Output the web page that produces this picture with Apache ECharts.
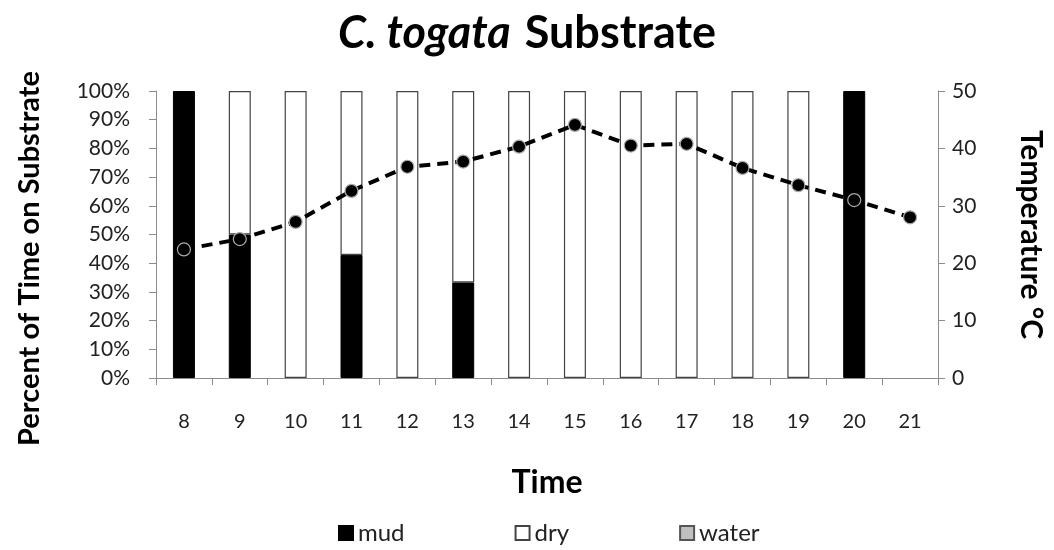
<!DOCTYPE html>
<html>
<head>
<meta charset="UTF-8">
<script src="https://cdn.jsdelivr.net/npm/echarts/dist/echarts.min.js"></script>
<style>
  html, body { margin: 0; padding: 0; background: #fff; }
  #chart { width: 1054px; height: 550px; }
</style>
</head>
<body>
<div id="chart"></div>
<script type="text/javascript">
// Hours of observation
const hours = ['8', '9', '10', '11', '12', '13', '14', '15', '16', '17', '18', '19', '20', '21'];

// Percent of time on each substrate
const mud   = [100, 50, 0, 42.9, 0, 33.3, 0, 0, 0, 0, 0, 0, 100, 0];
const dry   = [0, 50, 100, 57.1, 100, 66.7, 100, 100, 100, 100, 100, 100, 0, 0];
const water = [0, 0, 0, 0, 0, 0, 0, 0, 0, 0, 0, 0, 0, 0];

// Temperature (°C)
const temperature = [22.4, 24.2, 27.2, 32.6, 36.8, 37.7, 40.3, 44.1, 40.5, 40.8, 36.6, 33.6, 31.0, 28.0];

const font = 'Lato, "Open Sans", sans-serif';
const axisGray = '#8c8c8c';

// zero-height bars would still draw a border line, so drop them
const noZero = arr => arr.map(v => (v === 0 ? null : v));

const chart = echarts.init(document.getElementById('chart'));

const option = {
    backgroundColor: '#fff',
    textStyle: { fontFamily: font },
    title: {
        text: '{i|C. togata}{s| }{b|Substrate}',
        left: 'center',
        top: 6,
        textStyle: {
            rich: {
                i: { fontFamily: font, fontSize: 45, fontWeight: 'bold', fontStyle: 'italic', color: '#000' },
                s: { fontFamily: font, fontSize: 45, width: 14 },
                b: { fontFamily: font, fontSize: 45, fontWeight: 'bold', color: '#000' }
            }
        }
    },
    grid: { left: 156, right: 116, top: 91, bottom: 172 },
    legend: {
        data: ['mud', 'dry', 'water'],
        top: 516,
        left: 333,
        icon: 'rect',
        itemWidth: 14,
        itemHeight: 14,
        itemGap: 110,
        textStyle: { fontFamily: font, fontSize: 24, color: '#222' }
    },
    xAxis: {
        type: 'category',
        data: hours,
        name: 'Time',
        nameLocation: 'middle',
        nameGap: 89,
        nameTextStyle: { fontFamily: font, fontSize: 32, fontWeight: 'bold', color: '#000' },
        axisLine: { lineStyle: { color: axisGray } },
        axisTick: { show: true, length: 7, lineStyle: { color: axisGray } },
        axisLabel: { fontFamily: font, fontSize: 20, color: '#222', margin: 34 }
    },
    yAxis: [
        {
            type: 'value',
            min: 0,
            max: 100,
            interval: 10,
            name: 'Percent of Time on Substrate',
            nameLocation: 'middle',
            nameGap: 112,
            nameTextStyle: { fontFamily: font, fontSize: 29, fontWeight: 'bold', color: '#000', padding: [0, 48, 0, 0] },
            axisLine: { show: true, lineStyle: { color: axisGray } },
            axisTick: { show: true, length: 7, lineStyle: { color: axisGray } },
            splitLine: { show: false },
            axisLabel: { formatter: '{value}%', fontFamily: font, fontSize: 21, color: '#222', margin: 26 }
        },
        {
            type: 'value',
            min: 0,
            max: 50,
            interval: 10,
            position: 'right',
            name: 'Temperature °C',
            nameLocation: 'middle',
            nameRotate: -90,
            nameGap: 78,
            nameTextStyle: { fontFamily: font, fontSize: 30, fontWeight: 'bold', color: '#000' },
            axisLine: { show: true, lineStyle: { color: axisGray } },
            axisTick: { show: true, length: 7, lineStyle: { color: axisGray } },
            splitLine: { show: false },
            axisLabel: { fontFamily: font, fontSize: 21, color: '#222', margin: 14 }
        }
    ],
    series: [
        {
            name: 'mud',
            type: 'bar',
            stack: 'sub',
            barWidth: 22,
            itemStyle: { color: '#000', borderColor: '#000', borderWidth: 1 },
            data: noZero(mud)
        },
        {
            name: 'dry',
            type: 'bar',
            stack: 'sub',
            barWidth: 22,
            itemStyle: { color: '#fff', borderColor: '#444', borderWidth: 1.2 },
            data: noZero(dry)
        },
        {
            name: 'water',
            type: 'bar',
            stack: 'sub',
            barWidth: 22,
            itemStyle: { color: '#bfbfbf', borderColor: '#555', borderWidth: 1 },
            data: noZero(water)
        },
        {
            name: 'Temperature',
            type: 'line',
            yAxisIndex: 1,
            z: 5,
            symbol: 'circle',
            symbolSize: 13,
            itemStyle: { color: '#000', borderColor: '#aaa', borderWidth: 1.2 },
            lineStyle: { color: '#000', width: 4, type: [11, 7] },
            data: temperature
        }
    ]
};

chart.setOption(option);
</script>
</body>
</html>
